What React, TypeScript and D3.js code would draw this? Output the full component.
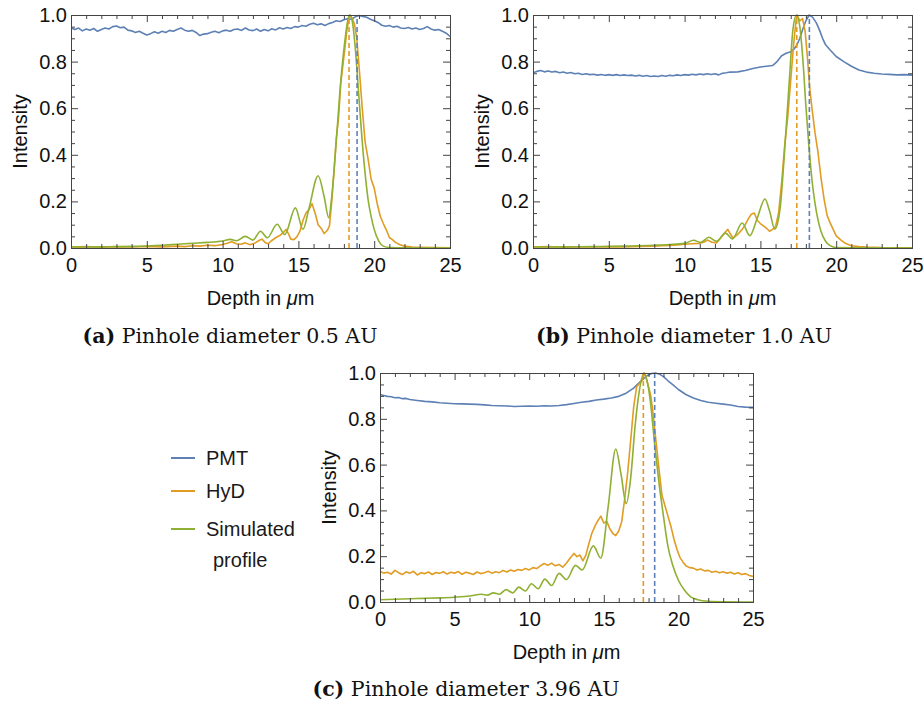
import { useEffect, useRef } from "react";
import * as d3 from "d3";

type Pt = [number, number];

// --- axis ticks
const DEPTH_MAJOR = [0, 5, 10, 15, 20, 25];
const DEPTH_MINOR = [1, 2, 3, 4, 6, 7, 8, 9, 11, 12, 13, 14, 16, 17, 18, 19, 21, 22, 23, 24];
const INTENSITY_MAJOR = [0, 0.2, 0.4, 0.6, 0.8, 1.0];
const INTENSITY_MINOR = [0.05, 0.1, 0.15, 0.25, 0.3, 0.35, 0.45, 0.5, 0.55, 0.65, 0.7, 0.75, 0.85, 0.9, 0.95];

const SERIES_NAMES = ["PMT", "HyD", "Simulated profile"];
const CAPTIONS = [
  ["(a)", "Pinhole diameter 0.5 AU"],
  ["(b)", "Pinhole diameter 1.0 AU"],
  ["(c)", "Pinhole diameter 3.96 AU"],
];

// --- (a) pinhole 0.5 AU
const PMT_A: Pt[] = [
  [0, 0.945], [0.25, 0.938], [0.5, 0.944], [0.75, 0.932], [1, 0.94], [1.25, 0.935], [1.5, 0.942], [1.75, 0.93],
  [2, 0.938], [2.25, 0.944], [2.5, 0.94], [2.75, 0.95], [3, 0.953], [3.25, 0.945], [3.5, 0.948], [3.75, 0.935],
  [4, 0.932], [4.25, 0.925], [4.5, 0.93], [4.75, 0.922], [5, 0.914], [5.25, 0.92], [5.5, 0.928], [5.75, 0.922],
  [6, 0.93], [6.25, 0.925], [6.5, 0.934], [6.75, 0.93], [7, 0.938], [7.25, 0.944], [7.5, 0.935], [7.75, 0.93],
  [8, 0.934], [8.25, 0.925], [8.5, 0.912], [8.75, 0.918], [9, 0.92], [9.25, 0.926], [9.5, 0.93], [9.75, 0.924],
  [10, 0.932], [10.25, 0.935], [10.5, 0.93], [10.75, 0.938], [11, 0.94], [11.25, 0.934], [11.5, 0.944], [11.75, 0.936],
  [12, 0.933], [12.25, 0.94], [12.5, 0.93], [12.75, 0.938], [13, 0.932], [13.25, 0.941], [13.5, 0.936], [13.75, 0.945],
  [14, 0.94], [14.25, 0.946], [14.5, 0.942], [14.75, 0.95], [15, 0.948], [15.25, 0.955], [15.5, 0.952], [15.75, 0.96],
  [16, 0.965], [16.25, 0.958], [16.5, 0.962], [16.75, 0.955], [17, 0.963], [17.25, 0.968], [17.5, 0.975], [17.75, 0.972],
  [18, 0.98], [18.25, 0.984], [18.5, 0.982], [18.75, 0.992], [19, 0.998], [19.25, 0.994], [19.5, 0.99], [19.75, 0.982],
  [20, 0.975], [20.25, 0.968], [20.5, 0.956], [20.75, 0.952], [21, 0.955], [21.25, 0.948], [21.5, 0.952], [21.75, 0.944],
  [22, 0.942], [22.25, 0.946], [22.5, 0.94], [22.75, 0.944], [23, 0.938], [23.25, 0.942], [23.5, 0.95], [23.75, 0.94],
  [24, 0.935], [24.25, 0.938], [24.5, 0.93], [24.75, 0.922], [25, 0.908],
];
const HYD_A: Pt[] = [
  [0, 0.004], [1, 0.006], [2, 0.003], [3, 0.006], [4, 0.004], [5, 0.007], [6, 0.005], [7, 0.008], [7.5, 0.006],
  [8, 0.01], [8.5, 0.008], [9, 0.012], [9.5, 0.01], [10, 0.015], [10.3, 0.02], [10.6, 0.027], [10.9, 0.018],
  [11.2, 0.016], [11.5, 0.022], [11.8, 0.014], [12.1, 0.02], [12.4, 0.032], [12.6, 0.038], [12.8, 0.024], [13, 0.018],
  [13.2, 0.03], [13.5, 0.044], [13.8, 0.055], [14, 0.066], [14.2, 0.08], [14.35, 0.06], [14.5, 0.038], [14.7, 0.036],
  [14.9, 0.048], [15.1, 0.072], [15.3, 0.118], [15.5, 0.15], [15.7, 0.165], [15.9, 0.19], [16.1, 0.15], [16.3, 0.1],
  [16.5, 0.085], [16.7, 0.062], [16.9, 0.075], [17.05, 0.095], [17.2, 0.2], [17.35, 0.33], [17.5, 0.47], [17.65, 0.56],
  [17.8, 0.71], [18, 0.82], [18.2, 0.935], [18.38, 1.0], [18.55, 0.985], [18.7, 0.96], [18.85, 0.9], [19, 0.78],
  [19.2, 0.61], [19.4, 0.455], [19.6, 0.38], [19.8, 0.295], [20, 0.257], [20.2, 0.19], [20.4, 0.136], [20.6, 0.105],
  [20.8, 0.078], [21, 0.045], [21.2, 0.036], [21.4, 0.024], [21.7, 0.014], [22, 0.008], [22.5, 0.004], [23, 0.003],
  [24, 0.002], [25, 0.001],
];
const SIM_A: Pt[] = [
  [0, 0.004], [2, 0.005], [4, 0.007], [6, 0.012], [7, 0.016], [8, 0.02], [9, 0.024], [9.6, 0.027], [10, 0.03],
  [10.5, 0.037], [10.9, 0.031], [11.5, 0.05], [12, 0.034], [12.5, 0.072], [12.95, 0.044], [13.6, 0.102], [14.1, 0.058],
  [14.8, 0.172], [15.3, 0.08], [15.7, 0.17], [16.3, 0.31], [16.7, 0.22], [17, 0.13], [17.2, 0.22], [17.5, 0.46],
  [17.8, 0.72], [18.05, 0.88], [18.25, 0.975], [18.4, 1.0], [18.55, 0.975], [18.75, 0.86], [19, 0.64], [19.2, 0.465],
  [19.4, 0.32], [19.6, 0.207], [19.8, 0.135], [20, 0.08], [20.3, 0.03], [20.6, 0.008], [21, 0.002], [22, 0.001], [25, 0],
];
const PEAKS_A = { pmt: 18.87, hyd: 18.34 };

// --- (b) pinhole 1.0 AU
const PMT_B: Pt[] = [
  [0, 0.752], [0.25, 0.758], [0.5, 0.762], [0.75, 0.756], [1, 0.76], [1.25, 0.755], [1.5, 0.758], [1.75, 0.752],
  [2, 0.755], [2.25, 0.75], [2.5, 0.753], [2.75, 0.748], [3, 0.75], [3.25, 0.745], [3.5, 0.748], [3.75, 0.744],
  [4, 0.746], [4.25, 0.742], [4.5, 0.745], [4.75, 0.741], [5, 0.744], [5.25, 0.741], [5.5, 0.744], [5.75, 0.74],
  [6, 0.743], [6.25, 0.74], [6.5, 0.742], [6.75, 0.738], [7, 0.741], [7.25, 0.737], [7.5, 0.74], [7.75, 0.736],
  [8, 0.738], [8.25, 0.736], [8.5, 0.74], [8.75, 0.737], [9, 0.741], [9.25, 0.739], [9.5, 0.743], [9.75, 0.74],
  [10, 0.744], [10.25, 0.742], [10.5, 0.746], [10.75, 0.743], [11, 0.747], [11.25, 0.744], [11.5, 0.748], [11.75, 0.745],
  [12, 0.748], [12.25, 0.743], [12.5, 0.75], [12.75, 0.752], [13, 0.755], [13.5, 0.756], [14, 0.762], [14.5, 0.77],
  [15, 0.777], [15.4, 0.78], [15.8, 0.783], [16.1, 0.8], [16.4, 0.825], [16.7, 0.836], [17, 0.842], [17.2, 0.852],
  [17.4, 0.87], [17.6, 0.9], [17.8, 0.94], [18, 0.975], [18.22, 1.0], [18.45, 0.99], [18.7, 0.965], [18.9, 0.935],
  [19.1, 0.9], [19.3, 0.872], [19.6, 0.85], [20, 0.822], [20.5, 0.8], [21, 0.78], [21.5, 0.764], [22, 0.755],
  [22.5, 0.75], [23, 0.747], [23.5, 0.745], [24, 0.743], [24.5, 0.744], [25, 0.742],
];
const HYD_B: Pt[] = [
  [0, 0.004], [1, 0.006], [2, 0.003], [3, 0.005], [4, 0.004], [5, 0.006], [6, 0.005], [7, 0.007], [8, 0.008],
  [8.5, 0.01], [9, 0.011], [9.5, 0.013], [10, 0.016], [10.5, 0.018], [11, 0.02], [11.3, 0.026], [11.5, 0.034],
  [11.8, 0.025], [12.1, 0.022], [12.4, 0.045], [12.7, 0.07], [12.85, 0.08], [13, 0.062], [13.2, 0.042], [13.5, 0.058],
  [13.8, 0.08], [14, 0.1], [14.2, 0.125], [14.4, 0.145], [14.6, 0.15], [14.8, 0.118], [15, 0.105], [15.2, 0.095],
  [15.4, 0.085], [15.6, 0.072], [15.8, 0.08], [16, 0.092], [16.2, 0.15], [16.4, 0.28], [16.6, 0.44], [16.8, 0.56],
  [17, 0.72], [17.2, 0.88], [17.35, 0.975], [17.42, 1.0], [17.6, 0.975], [17.78, 0.985], [17.95, 0.93], [18.1, 0.82],
  [18.25, 0.69], [18.4, 0.6], [18.6, 0.495], [18.8, 0.41], [19, 0.3], [19.2, 0.21], [19.4, 0.14], [19.6, 0.108],
  [19.8, 0.08], [20, 0.052], [20.3, 0.035], [20.6, 0.02], [21, 0.01], [21.5, 0.006], [22, 0.004], [23, 0.002], [25, 0.001],
];
const SIM_B: Pt[] = [
  [0, 0.004], [2, 0.005], [4, 0.006], [6, 0.008], [8, 0.012], [9, 0.015], [10, 0.02], [10.6, 0.033], [11.05, 0.024],
  [11.6, 0.046], [12.1, 0.029], [12.7, 0.064], [13.15, 0.039], [13.8, 0.107], [14.3, 0.053], [14.8, 0.13], [15.3, 0.21],
  [15.6, 0.16], [15.95, 0.081], [16.3, 0.17], [16.6, 0.42], [16.9, 0.71], [17.15, 0.94], [17.38, 1.0], [17.6, 0.95],
  [17.8, 0.81], [18, 0.61], [18.2, 0.436], [18.4, 0.293], [18.6, 0.193], [18.8, 0.121], [19, 0.071], [19.3, 0.029],
  [19.6, 0.01], [20, 0.002], [22, 0.001], [25, 0],
];
const PEAKS_B = { pmt: 18.23, hyd: 17.4 };

// --- (c) pinhole 3.96 AU
const PMT_C: Pt[] = [
  [0, 0.906], [0.25, 0.902], [0.5, 0.898], [0.75, 0.896], [1, 0.892], [1.25, 0.893], [1.5, 0.888], [1.75, 0.889],
  [2, 0.884], [2.5, 0.88], [3, 0.876], [3.5, 0.874], [4, 0.87], [4.5, 0.868], [5, 0.866], [5.5, 0.865], [6, 0.864],
  [6.5, 0.863], [7, 0.861], [7.5, 0.858], [8, 0.857], [8.5, 0.856], [9, 0.854], [9.5, 0.855], [10, 0.856], [10.5, 0.855],
  [11, 0.857], [11.5, 0.856], [12, 0.858], [12.5, 0.862], [13, 0.867], [13.5, 0.872], [14, 0.876], [14.5, 0.882],
  [15, 0.886], [15.5, 0.891], [16, 0.898], [16.5, 0.912], [17, 0.934], [17.5, 0.966], [17.9, 0.988], [18.2, 0.998],
  [18.45, 1.0], [18.7, 0.996], [19, 0.984], [19.3, 0.966], [19.6, 0.95], [20, 0.928], [20.5, 0.906], [21, 0.891],
  [21.5, 0.88], [22, 0.872], [22.5, 0.868], [23, 0.864], [23.5, 0.86], [24, 0.854], [24.5, 0.851], [25, 0.85],
];
const HYD_C: Pt[] = [
  [0, 0.134], [0.25, 0.126], [0.5, 0.13], [0.75, 0.122], [1, 0.138], [1.25, 0.128], [1.5, 0.12], [1.75, 0.132],
  [2, 0.126], [2.25, 0.134], [2.5, 0.118], [2.75, 0.128], [3, 0.124], [3.25, 0.131], [3.5, 0.12], [3.75, 0.129],
  [4, 0.125], [4.25, 0.132], [4.5, 0.122], [4.75, 0.13], [5, 0.126], [5.25, 0.133], [5.5, 0.121], [5.75, 0.13],
  [6, 0.126], [6.25, 0.12], [6.5, 0.131], [6.75, 0.124], [7, 0.128], [7.25, 0.134], [7.5, 0.126], [7.75, 0.132],
  [8, 0.128], [8.25, 0.138], [8.5, 0.131], [8.75, 0.14], [9, 0.134], [9.25, 0.142], [9.5, 0.138], [9.75, 0.146],
  [10, 0.14], [10.25, 0.15], [10.5, 0.146], [10.75, 0.158], [11, 0.168], [11.25, 0.16], [11.5, 0.17], [11.75, 0.158],
  [12, 0.164], [12.25, 0.152], [12.5, 0.17], [12.75, 0.192], [13, 0.212], [13.2, 0.198], [13.4, 0.205], [13.6, 0.18],
  [13.8, 0.205], [14, 0.255], [14.2, 0.3], [14.4, 0.33], [14.6, 0.355], [14.8, 0.375], [15, 0.345], [15.2, 0.352],
  [15.4, 0.32], [15.6, 0.3], [15.8, 0.29], [16, 0.31], [16.2, 0.35], [16.4, 0.45], [16.6, 0.565], [16.8, 0.705],
  [17, 0.85], [17.2, 0.94], [17.4, 0.955], [17.55, 0.965], [17.7, 1.0], [17.85, 0.975], [18, 0.94], [18.15, 0.9],
  [18.3, 0.825], [18.5, 0.7], [18.7, 0.58], [18.9, 0.465], [19.1, 0.42], [19.3, 0.375], [19.5, 0.33], [19.7, 0.275],
  [19.9, 0.23], [20.1, 0.195], [20.3, 0.175], [20.5, 0.158], [20.75, 0.15], [21, 0.148], [21.25, 0.14], [21.5, 0.144],
  [21.75, 0.136], [22, 0.138], [22.25, 0.13], [22.5, 0.134], [22.75, 0.128], [23, 0.132], [23.25, 0.126], [23.5, 0.13],
  [23.75, 0.122], [24, 0.128], [24.25, 0.12], [24.5, 0.124], [24.75, 0.116], [25, 0.112],
];
const SIM_C: Pt[] = [
  [0, 0.01], [1, 0.012], [2, 0.014], [3, 0.016], [4, 0.018], [5, 0.021], [6, 0.026], [6.8, 0.034], [7.2, 0.03],
  [7.6, 0.04], [8, 0.034], [8.45, 0.054], [8.9, 0.04], [9.3, 0.065], [9.75, 0.048], [10.15, 0.08], [10.6, 0.058],
  [11.05, 0.1], [11.5, 0.072], [12, 0.125], [12.5, 0.098], [13.1, 0.16], [13.55, 0.14], [14.3, 0.245], [14.8, 0.192],
  [15.3, 0.42], [15.8, 0.668], [16.15, 0.56], [16.5, 0.43], [16.8, 0.54], [17.1, 0.77], [17.4, 0.93], [17.7, 1.0],
  [17.95, 0.95], [18.15, 0.86], [18.4, 0.694], [18.7, 0.52], [19, 0.374], [19.3, 0.243], [19.6, 0.165], [20, 0.095],
  [20.4, 0.052], [20.8, 0.024], [21.3, 0.01], [22, 0.003], [23, 0.001], [25, 0],
];
const PEAKS_C = { pmt: 18.41, hyd: 17.65 };

const COLORS = ["#5e81b5", "#e19c24", "#8fb032"];
const FRAME = "#444";
const SANS = "'Liberation Sans', Arial, sans-serif";
const SERIF = "'DejaVu Serif', serif";
const FONT_SIZE = 20;

const PANELS = [
  { key: "a", left: 71, top: 15, width: 379, height: 233, series: [PMT_A, HYD_A, SIM_A], peaks: PEAKS_A },
  { key: "b", left: 533, top: 15, width: 379, height: 233, series: [PMT_B, HYD_B, SIM_B], peaks: PEAKS_B },
  { key: "c", left: 380, top: 373, width: 373, height: 229, series: [PMT_C, HYD_C, SIM_C], peaks: PEAKS_C },
];

function drawPanel(svg: any, p: (typeof PANELS)[number]) {
  const x = d3.scaleLinear().domain([0, 25]).range([p.left, p.left + p.width]);
  const y = d3.scaleLinear().domain([0, 1]).range([p.top + p.height, p.top]);
  const g = svg.append("g");

  const clipId = `clip-${p.key}`;
  g.append("clipPath").attr("id", clipId)
    .append("rect")
    .attr("x", p.left).attr("y", p.top - 1)
    .attr("width", p.width).attr("height", p.height + 2);

  // measured traces are noisy -> straight segments; simulation is smooth
  const measured = d3.line<Pt>().x(d => x(d[0])).y(d => y(d[1])).curve(d3.curveLinear);
  const smooth = d3.line<Pt>().x(d => x(d[0])).y(d => y(d[1])).curve(d3.curveMonotoneX);

  const plot = g.append("g").attr("clip-path", `url(#${clipId})`);
  p.series.forEach((s, i) => {
    plot.append("path")
      .attr("d", i === 2 ? smooth(s) : measured(s))
      .attr("fill", "none")
      .attr("stroke", COLORS[i])
      .attr("stroke-width", 1.6)
      .attr("stroke-linejoin", "round");
  });

  // dashed peak markers
  [p.peaks.hyd, p.peaks.pmt].forEach((pk, i) => {
    plot.append("line")
      .attr("x1", x(pk)).attr("x2", x(pk))
      .attr("y1", y(0)).attr("y2", y(1))
      .attr("stroke", i === 0 ? COLORS[1] : COLORS[0])
      .attr("stroke-width", 1.6)
      .attr("stroke-dasharray", "5,3");
  });

  const style = (sel: any) => {
    sel.select(".domain").remove();
    sel.attr("font-family", SANS).attr("font-size", FONT_SIZE);
    sel.selectAll("line").attr("stroke", FRAME);
    sel.selectAll("text").attr("fill", "#111");
  };
  const none = () => "";

  // bottom
  g.append("g").attr("transform", `translate(0,${y(0)})`)
    .call(d3.axisBottom(x).tickValues(DEPTH_MAJOR).tickSize(-7).tickPadding(10).tickFormat(d3.format("d")))
    .call(style);
  g.append("g").attr("transform", `translate(0,${y(0)})`)
    .call(d3.axisBottom(x).tickValues(DEPTH_MINOR).tickSize(-4).tickFormat(none))
    .call(style);
  // top
  g.append("g").attr("transform", `translate(0,${y(1)})`)
    .call(d3.axisTop(x).tickValues(DEPTH_MAJOR).tickSize(-7).tickFormat(none))
    .call(style);
  g.append("g").attr("transform", `translate(0,${y(1)})`)
    .call(d3.axisTop(x).tickValues(DEPTH_MINOR).tickSize(-4).tickFormat(none))
    .call(style);
  // left
  g.append("g").attr("transform", `translate(${x(0)},0)`)
    .call(d3.axisLeft(y).tickValues(INTENSITY_MAJOR).tickSize(-7).tickPadding(4).tickFormat(d3.format(".1f")))
    .call(style);
  g.append("g").attr("transform", `translate(${x(0)},0)`)
    .call(d3.axisLeft(y).tickValues(INTENSITY_MINOR).tickSize(-4).tickFormat(none))
    .call(style);
  // right
  g.append("g").attr("transform", `translate(${x(25)},0)`)
    .call(d3.axisRight(y).tickValues(INTENSITY_MAJOR).tickSize(-7).tickFormat(none))
    .call(style);
  g.append("g").attr("transform", `translate(${x(25)},0)`)
    .call(d3.axisRight(y).tickValues(INTENSITY_MINOR).tickSize(-4).tickFormat(none))
    .call(style);

  g.append("rect")
    .attr("x", p.left + 0.5).attr("y", p.top + 0.5)
    .attr("width", p.width).attr("height", p.height)
    .attr("fill", "none").attr("stroke", FRAME).attr("stroke-width", 1);

  // axis titles
  const xt = g.append("text")
    .attr("x", (p.left * 2 + p.width) / 2)
    .attr("y", y(0) + 57)
    .attr("text-anchor", "middle")
    .attr("font-family", SANS).attr("font-size", FONT_SIZE).attr("fill", "#111");
  xt.append("tspan").text("Depth in ");
  xt.append("tspan").attr("font-style", "italic").text("μ");
  xt.append("tspan").text("m");

  g.append("text")
    .attr("transform", `translate(${p.left - 44},${p.top + p.height / 2}) rotate(-90)`)
    .attr("text-anchor", "middle")
    .attr("font-family", SANS).attr("font-size", FONT_SIZE).attr("fill", "#111")
    .text("Intensity");
}

export default function App() {
  const ref = useRef<SVGSVGElement>(null);

  useEffect(() => {
    const svg = d3.select(ref.current);
    svg.selectAll("*").remove();

    PANELS.forEach(p => drawPanel(svg, p));

    // legend
    const legendRows = [
      { lineY: 458, textY: 465 },
      { lineY: 491, textY: 498 },
      { lineY: 529, textY: 536 },
    ];
    const legend = svg.append("g");
    SERIES_NAMES.forEach((name, i) => {
      const r = legendRows[i];
      legend.append("line")
        .attr("x1", 171).attr("x2", 195)
        .attr("y1", r.lineY).attr("y2", r.lineY)
        .attr("stroke", COLORS[i]).attr("stroke-width", 2);
      const words = name === "Simulated profile" ? ["Simulated", "profile"] : [name];
      words.forEach((w, j) => {
        legend.append("text")
          .attr("x", j === 0 ? 206 : 213)
          .attr("y", r.textY + j * 31)
          .attr("font-family", SANS).attr("font-size", FONT_SIZE).attr("fill", "#1a1a1a")
          .text(w);
      });
    });

    // captions
    const capPos = [
      { x: 230, y: 343 },
      { x: 684, y: 343 },
      { x: 466, y: 696 },
    ];
    CAPTIONS.forEach(([tag, txt], i) => {
      const t = svg.append("text")
        .attr("x", capPos[i].x).attr("y", capPos[i].y)
        .attr("text-anchor", "middle")
        .attr("font-family", SERIF).attr("font-size", 20.5).attr("fill", "#111");
      t.append("tspan").attr("font-weight", "bold").text(tag);
      t.append("tspan").text(" " + txt);
    });
  }, []);

  return (
    <svg
      ref={ref}
      width={924}
      height={709}
      style={{ position: "absolute", left: 0, top: 0, background: "#fff" }}
    />
  );
}
